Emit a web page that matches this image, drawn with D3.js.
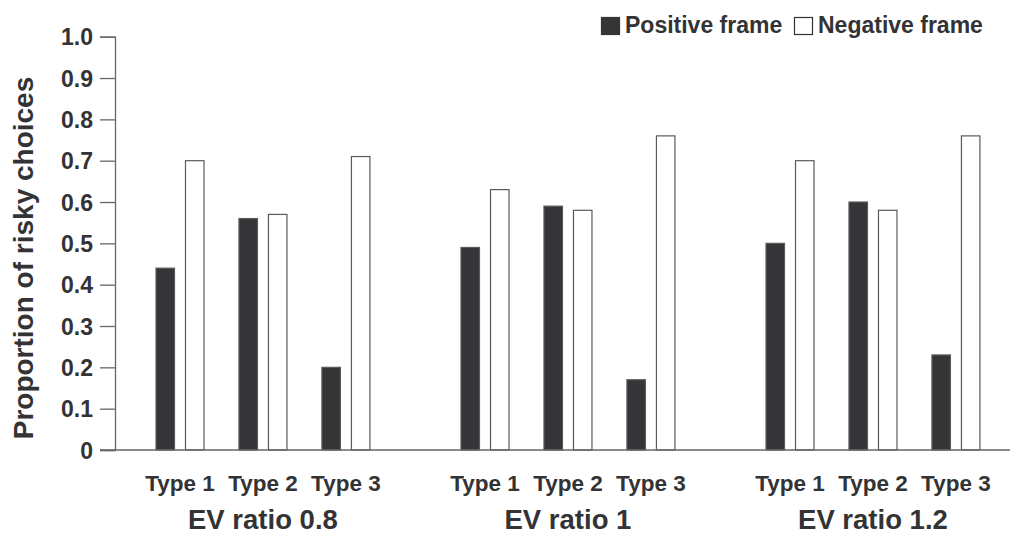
<!DOCTYPE html>
<html>
<head>
<meta charset="utf-8">
<script src="https://cdn.jsdelivr.net/npm/d3@7"></script>
<style>
  body { margin: 0; background: #fff; }
  svg text { font-family: "Liberation Sans", Arial, Helvetica, sans-serif; font-weight: bold; fill: #333336; }
</style>
</head>
<body>
<div id="chart"></div>
<script>
// data
var groups = ["EV ratio 0.8", "EV ratio 1", "EV ratio 1.2"];
var types = ["Type 1", "Type 2", "Type 3"];
var frames = ["Positive frame", "Negative frame"];
var positive = [[0.44, 0.56, 0.20], [0.49, 0.59, 0.17], [0.50, 0.60, 0.23]];
var negative = [[0.70, 0.57, 0.71], [0.63, 0.58, 0.76], [0.70, 0.58, 0.76]];
var yTicks = [0, 0.1, 0.2, 0.3, 0.4, 0.5, 0.6, 0.7, 0.8, 0.9, 1.0];
var yTickLabels = ["0", "0.1", "0.2", "0.3", "0.4", "0.5", "0.6", "0.7", "0.8", "0.9", "1.0"];

var width = 1010, height = 537;
var barFill = "#353538", edge = "#5a5a5e";

var svg = d3.select("#chart").append("svg")
    .attr("width", width)
    .attr("height", height);

var y = d3.scaleLinear().domain([0, 1]).range([450, 36.7]);

var x0 = d3.scaleBand().domain(groups).range([138.5, 997.4]).paddingInner(0.184);
var x1 = d3.scaleBand().domain(types).range([0, x0.bandwidth()]);
var x2 = d3.scaleBand().domain(frames).range([17.5, 65.5]).paddingInner(0.373);

// flatten into one row per bar
var rows = [];
for (var g = 0; g < groups.length; g++) {
  for (var t = 0; t < types.length; t++) {
    rows.push({group: groups[g], type: types[t], frame: frames[0], value: positive[g][t]});
    rows.push({group: groups[g], type: types[t], frame: frames[1], value: negative[g][t]});
  }
}

// y axis
var yAxis = d3.axisLeft(y)
    .tickValues(yTicks)
    .tickFormat(function(d, i) { return yTickLabels[i]; })
    .tickSize(15)
    .tickPadding(7);

var ya = svg.append("g").attr("transform", "translate(115,0)").call(yAxis);
ya.select(".domain").attr("stroke", "#666").attr("stroke-width", 1.3);
ya.selectAll(".tick line").attr("stroke", "#666").attr("stroke-width", 1.3);
ya.selectAll(".tick text").style("font-size", "23px").attr("dy", "0.36em");

// bars
svg.append("g").selectAll("rect")
    .data(rows)
    .enter()
    .append("rect")
    .attr("x", function(d) { return x0(d.group) + x1(d.type) + x2(d.frame); })
    .attr("y", function(d) { return y(d.value); })
    .attr("width", x2.bandwidth())
    .attr("height", function(d) { return y(0) - y(d.value); })
    .attr("fill", function(d) { return d.frame == frames[0] ? barFill : "#fff"; })
    .attr("stroke", edge)
    .attr("stroke-width", 1.2);

// baseline
svg.append("line")
    .attr("x1", 100).attr("x2", width)
    .attr("y1", y(0)).attr("y2", y(0))
    .attr("stroke", "#666").attr("stroke-width", 1.3);

// type labels
svg.append("g").selectAll("text")
    .data(rows.filter(function(d) { return d.frame == frames[0]; }))
    .enter()
    .append("text")
    .attr("x", function(d) { return x0(d.group) + x1(d.type) + x1.bandwidth() / 2; })
    .attr("y", 491)
    .attr("text-anchor", "middle")
    .style("font-size", "22.5px")
    .text(function(d) { return d.type; });

// group labels
svg.append("g").selectAll("text")
    .data(groups)
    .enter()
    .append("text")
    .attr("x", function(d) { return x0(d) + x0.bandwidth() / 2; })
    .attr("y", 529)
    .attr("text-anchor", "middle")
    .style("font-size", "27.5px")
    .text(function(d) { return d; });

// y title
svg.append("text")
    .attr("transform", "translate(33,258) rotate(-90)")
    .attr("text-anchor", "middle")
    .style("font-size", "28px")
    .text("Proportion of risky choices");

// legend
var legendX = [601, 794];
var lg = svg.append("g").selectAll("g")
    .data(frames)
    .enter()
    .append("g")
    .attr("transform", function(d, i) { return "translate(" + legendX[i] + ",0)"; });

lg.append("rect")
    .attr("x", 0.5).attr("y", 17.5)
    .attr("width", 18).attr("height", 17)
    .attr("fill", function(d, i) { return i == 0 ? barFill : "#fff"; })
    .attr("stroke", function(d, i) { return i == 0 ? barFill : "#333336"; })
    .attr("stroke-width", 1.2);

lg.append("text")
    .attr("x", 24)
    .attr("y", 33)
    .style("font-size", "23px")
    .text(function(d) { return d; });
</script>
</body>
</html>
